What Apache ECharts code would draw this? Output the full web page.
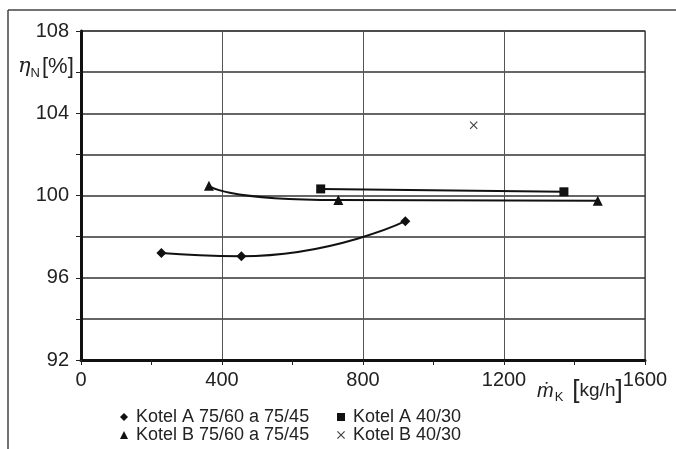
<!DOCTYPE html>
<html><head><meta charset="utf-8">
<script src="https://cdn.jsdelivr.net/npm/echarts@6/dist/echarts.min.js"></script>
<style>html,body{margin:0;padding:0;background:#fff}#c{width:676px;height:449px}</style>
</head><body><div id="c"></div>
<script>
// Data
const seriesNames = ['Kotel A 75/60 a 75/45', 'Kotel A 40/30', 'Kotel B 75/60 a 75/45', 'Kotel B 40/30'];
const kotelA7560 = [[228, 97.2], [455, 97.05], [920, 98.75]];
const kotelA4030 = [[680, 100.32], [1370, 100.18]];
const kotelB7560 = [[363, 100.48], [730, 99.78], [1466, 99.75]];
const kotelB4030 = [[1114, 103.42]];
const xTicks = [0, 400, 800, 1200, 1600];
const yTickLabels = [92, 96, 100, 104, 108];

const FONT = '"Liberation Sans", Arial, sans-serif';
const crossShape = 'path://M1,0L5,4L9,0L10,1L6,5L10,9L9,10L5,6L1,10L0,9L4,5L0,1Z';

function legendItem(name, icon, left, top) {
  return { data: [{ name: name, icon: icon }], orient: 'horizontal', left: left, top: top,
    itemWidth: 8, itemHeight: 8, padding: 0,
    textStyle: { fontFamily: FONT, fontSize: 18, color: '#222', padding: [0, 0, 0, 3] } };
}

const chart = echarts.init(document.getElementById('c'));
chart.setOption({
  animation: false,
  backgroundColor: '#fff',
  grid: { left: 81, right: 31, top: 31, bottom: 89, show: true, borderColor: '#333', borderWidth: 1.2, backgroundColor: 'transparent' },
  xAxis: {
    type: 'value', min: 0, max: 1600, interval: 400,
    axisLine: { show: true, onZero: false, lineStyle: { color: '#111', width: 3 } },
    axisTick: { show: true, length: 5, lineStyle: { color: '#222', width: 1 } },
    minorTick: { show: true, splitNumber: 2, length: 5, lineStyle: { color: '#222', width: 1 } },
    axisLabel: { fontFamily: FONT, fontSize: 20, color: '#222', margin: 10,
      formatter: v => xTicks.indexOf(v) >= 0 ? String(v) : '' },
    splitLine: { show: true, lineStyle: { color: '#555', width: 1 } }
  },
  yAxis: {
    type: 'value', min: 92, max: 108, interval: 2,
    axisLine: { show: true, onZero: false, lineStyle: { color: '#111', width: 3 } },
    axisTick: { show: true, length: 5, lineStyle: { color: '#222', width: 1 } },
    axisLabel: { fontFamily: FONT, fontSize: 20, color: '#222', margin: 12,
      formatter: v => yTickLabels.indexOf(v) >= 0 ? String(v) : '' },
    splitLine: { show: true, lineStyle: { color: '#333', width: 1.6 } }
  },
  legend: [
    legendItem(seriesNames[0], 'diamond', 120, 408),
    legendItem(seriesNames[2], 'triangle', 120, 426),
    legendItem(seriesNames[1], 'rect', 337, 408),
    legendItem(seriesNames[3], crossShape, 337, 426)
  ],
  series: [
    { name: seriesNames[0], type: 'line', data: kotelA7560, smooth: 0.55, symbol: 'diamond', symbolSize: 10,
      itemStyle: { color: '#111' }, lineStyle: { color: '#111', width: 2 } },
    { name: seriesNames[1], type: 'line', data: kotelA4030, smooth: true, symbol: 'rect', symbolSize: 9,
      itemStyle: { color: '#111' }, lineStyle: { color: '#111', width: 2 } },
    { name: seriesNames[2], type: 'line', data: kotelB7560, smooth: 0.9, symbol: 'triangle', symbolSize: 10,
      itemStyle: { color: '#111' }, lineStyle: { color: '#111', width: 2 } },
    { name: seriesNames[3], type: 'scatter', data: kotelB4030, symbol: crossShape, symbolSize: 8,
      itemStyle: { color: '#111' } }
  ],
  graphic: [
    { type: 'line', shape: { x1: 8, y1: 10, x2: 676, y2: 10 }, style: { stroke: '#444', lineWidth: 1.5 } },
    { type: 'line', shape: { x1: 8, y1: 10, x2: 8, y2: 449 }, style: { stroke: '#444', lineWidth: 1.5 } },
    { type: 'text', left: 18, top: 56, style: {
        text: '{e|η}{s|N}{b|[%]}', rich: {
          e: { fontFamily: '"DejaVu Serif", serif', fontStyle: 'italic', fontSize: 21, fill: '#222' },
          s: { fontFamily: FONT, fontSize: 13, fill: '#222', padding: [12, 2, 0, 0] },
          b: { fontFamily: FONT, fontSize: 22, fill: '#222' } } } },
    { type: 'text', left: 537, top: 378, style: {
        text: '{e|ṁ}{s|K}{b|[}{t|kg/h}{b|]}', rich: {
          e: { fontFamily: FONT, fontStyle: 'italic', fontSize: 20, fill: '#222' },
          s: { fontFamily: FONT, fontSize: 13, fill: '#222', padding: [12, 9, 0, 1] },
          b: { fontFamily: FONT, fontSize: 26, fill: '#222' },
          t: { fontFamily: FONT, fontSize: 19, fill: '#222' } } } }
  ]
});
</script></body></html>
